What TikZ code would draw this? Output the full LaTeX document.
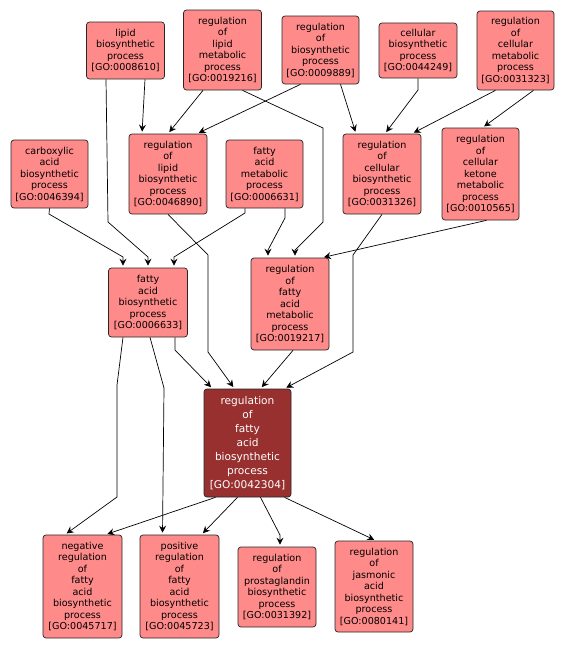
\documentclass[tikz,border=0pt]{standalone}
\usepackage{fontspec}
\setmainfont{DejaVu Sans}
\usepackage{xcolor}
\usetikzlibrary{arrows.meta}
\definecolor{termfill}{RGB}{255,138,138}
\definecolor{focusfill}{RGB}{152,48,48}

\begin{document}
\begin{tikzpicture}[
    x=1pt, y=-1pt,
    term/.style={draw=black!85, line width=0.7pt, rounded corners=3pt, fill=termfill, align=center, inner sep=3pt, minimum width=78pt, font=\fontsize{9.6}{11.5}\selectfont},
    focus/.style={term, fill=focusfill, text=white, minimum width=87pt, font=\fontsize{10.6}{14}\selectfont},
    arrow/.style={-{Stealth[length=7pt,width=7pt,inset=2.5pt]}, line width=0.7pt, shorten >=2pt}
]
\useasboundingbox (0,0) rectangle (565,651);

\node[term, minimum height=57pt] (lipbio) at (125.5,50.5) {lipid\\biosynthetic\\process\\{}[GO:0008610]};
\node[term, minimum height=80pt] (reglipmet) at (222.5,50) {regulation\\of\\lipid\\metabolic\\process\\{}[GO:0019216]};
\node[term, minimum height=68pt, minimum width=77pt] (regbio) at (320.5,50) {regulation\\of\\biosynthetic\\process\\{}[GO:0009889]};
\node[term, minimum height=55pt] (cellbio) at (418,50.5) {cellular\\biosynthetic\\process\\{}[GO:0044249]};
\node[term, minimum height=79pt, minimum width=77pt] (regcellmet) at (515.5,50.5) {regulation\\of\\cellular\\metabolic\\process\\{}[GO:0031323]};

\node[term, minimum height=68pt, minimum width=77pt] (carbox) at (49.5,174) {carboxylic\\acid\\biosynthetic\\process\\{}[GO:0046394]};
\node[term, minimum height=80pt] (reglipbio) at (168,174) {regulation\\of\\lipid\\biosynthetic\\process\\{}[GO:0046890]};
\node[term, minimum height=68pt, minimum width=77pt] (fametab) at (264.5,174) {fatty\\acid\\metabolic\\process\\{}[GO:0006631]};
\node[term, minimum height=80pt] (regcellbio) at (382,174) {regulation\\of\\cellular\\biosynthetic\\process\\{}[GO:0031326]};
\node[term, minimum height=92pt, minimum width=77pt] (regketone) at (480.5,174) {regulation\\of\\cellular\\ketone\\metabolic\\process\\{}[GO:0010565]};

\node[term, minimum height=69pt, minimum width=79pt] (fabio) at (148,302.5) {fatty\\acid\\biosynthetic\\process\\{}[GO:0006633]};
\node[term, minimum height=92pt] (regfametab) at (290,304) {regulation\\of\\fatty\\acid\\metabolic\\process\\{}[GO:0019217]};

\node[focus, minimum height=108pt] (main) at (247.5,443) {regulation\\of\\fatty\\acid\\biosynthetic\\process\\{}[GO:0042304]};

\node[term, minimum height=103pt, minimum width=79pt] (negreg) at (82.5,586.5) {negative\\regulation\\of\\fatty\\acid\\biosynthetic\\process\\{}[GO:0045717]};
\node[term, minimum height=103pt, minimum width=79pt] (posreg) at (179.5,586.5) {positive\\regulation\\of\\fatty\\acid\\biosynthetic\\process\\{}[GO:0045723]};
\node[term, minimum height=80pt] (regprost) at (277,587) {regulation\\of\\prostaglandin\\biosynthetic\\process\\{}[GO:0031392]};
\node[term, minimum height=91pt] (regjasm) at (374,586.5) {regulation\\of\\jasmonic\\acid\\biosynthetic\\process\\{}[GO:0080141]};

\draw[arrow] ([xshift=19.5pt]lipbio.south) -- ([xshift=-26pt]reglipbio.north);
\draw[arrow] ([xshift=-19.5pt]lipbio.south) -- (108,222) -- (148,257) -- (fabio.north);
\draw[arrow] (carbox.south) -- (49,214) -- (123,257) -- ([xshift=-25pt]fabio.north);
\draw[arrow] ([xshift=-19.5pt]fametab.south) -- (245,213) -- (174,257) -- ([xshift=26pt]fabio.north);
\draw[arrow] ([xshift=20.5pt]fametab.south) -- (285,218) -- (268,250) -- ([xshift=-22pt]regfametab.north);
\draw[arrow] ([xshift=20pt]reglipmet.south) -- (323,128) -- (323,222) -- (295,250) -- ([xshift=5pt]regfametab.north);
\draw[arrow] ([xshift=6pt]regketone.south) -- ([xshift=32pt]regfametab.north);
\draw[arrow] ([xshift=-19.5pt]reglipmet.south) -- (reglipbio.north);
\draw[arrow] ([xshift=-20pt]regbio.south) -- ([xshift=29pt]reglipbio.north);
\draw[arrow] ([xshift=20pt]regbio.south) -- ([xshift=-26pt]regcellbio.north);
\draw[arrow] (cellbio.south) -- (418,90) -- ([xshift=3pt]regcellbio.north);
\draw[arrow] ([xshift=-20pt]regcellmet.south) -- ([xshift=30pt]regcellbio.north);
\draw[arrow] ([xshift=18pt]regcellmet.south) -- ([xshift=2pt]regketone.north);
\draw[arrow] ([xshift=27pt]fabio.south) -- (175,350) -- ([xshift=-35pt]main.north);
\draw[arrow] (reglipbio.south) -- (208,255) -- (208,352) -- ([xshift=-13pt]main.north);
\draw[arrow] ([xshift=3pt]regfametab.south) -- ([xshift=13pt]main.north);
\draw[arrow] (regcellbio.south) -- (353,255) -- (353,352) -- ([xshift=37pt]main.north);
\draw[arrow] ([xshift=-25pt]fabio.south) -- (117,385) -- (117,497) -- ([xshift=-17.5pt]negreg.north);
\draw[arrow] ([xshift=2pt]fabio.south) -- (164,388) -- ([xshift=-17pt]posreg.north);
\draw[arrow] ([xshift=-32pt]main.south) -- ([xshift=23pt]negreg.north);
\draw[arrow] ([xshift=-10pt]main.south) -- ([xshift=22pt]posreg.north);
\draw[arrow] ([xshift=13pt]main.south) -- (280,535) -- ([xshift=3pt]regprost.north);
\draw[arrow] ([xshift=37pt]main.south) -- ([xshift=2pt]regjasm.north);
\end{tikzpicture}
\end{document}
